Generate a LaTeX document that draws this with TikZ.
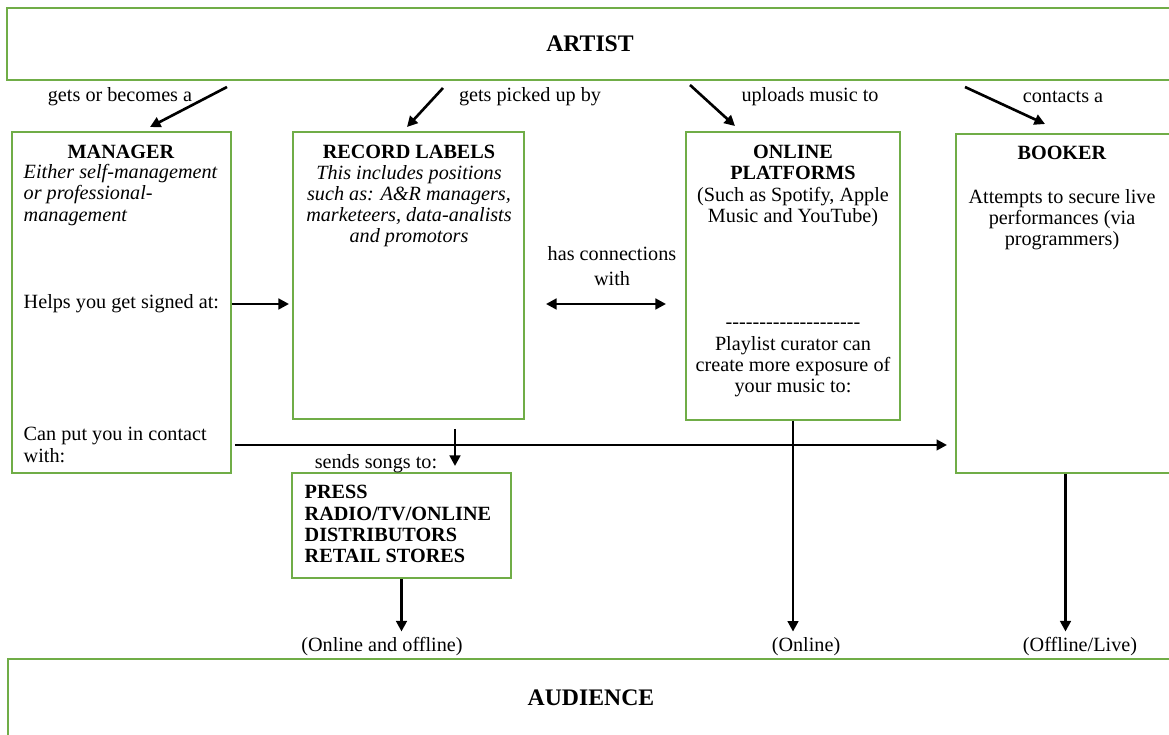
\documentclass[tikz,border=0pt]{standalone}
\usepackage{fontspec}
\setmainfont{Liberation Serif}[Ligatures=TeXOff]
\usepackage{xcolor}
\usepackage{tikz}
\usetikzlibrary{arrows.meta,positioning,calc}

\definecolor{boxgreen}{RGB}{112,173,71}
\newcommand{\bodysize}{\fontsize{11.5}{12}\selectfont}

\tikzset{
    box/.style={draw=boxgreen, line width=1.1pt, inner sep=0pt},
    arr/.style={-{Triangle[length=6pt,width=6pt]}, line width=1.5pt},
    twoway/.style={{Triangle[length=6pt,width=6pt]}-{Triangle[length=6pt,width=6pt]}, line width=1.5pt},
    title/.style={font=\fontsize{13.5}{15}\selectfont\bfseries},
    head/.style={font=\bodysize\bfseries},
    note/.style={font=\bodysize\itshape}
}

\begin{document}
\begin{tikzpicture}[font=\bodysize]
    \useasboundingbox (0,0) rectangle (23.38,14.7);
    \clip (0,0) rectangle (23.38,14.7);

    % Artist
    \node[box, title, minimum width=23.32cm, minimum height=1.44cm] (artist) at (11.8,13.82) {ARTIST};

    % Manager
    \node[box, minimum width=4.38cm, minimum height=6.82cm] (manager) at (2.43,8.65) {};
    \node (mantitle) at (2.42,11.66) {\textbf{MANAGER}};
    \node[note, align=left, anchor=west] (mannote) at (0.35,10.8) {Either self-management\\or professional-\\management};
    \node[anchor=west] (helps) at (0.35,8.62) {Helps you get signed at:};
    \node[align=left, anchor=west] (contact) at (0.35,5.8) {Can put you in contact\\with:};

    % Record labels
    \node[box, minimum width=4.62cm, minimum height=5.74cm] (records) at (8.17,9.19) {};
    \node (rectitle) at (8.18,11.66) {\textbf{RECORD LABELS}};
    \node[note, align=center] (recnote) at (8.18,10.58) {This includes positions\\such as: A\&R managers,\\marketeers, data-analists\\and promotors};

    % Online platforms
    \node[box, minimum width=4.28cm, minimum height=5.76cm] (online) at (15.86,9.18) {};
    \node[align=center] (ontitle) at (15.86,10.98) {\textbf{ONLINE}\\\textbf{PLATFORMS}\\(Such as Spotify, Apple\\Music and YouTube)};
    \node[align=center] (curator) at (15.86,7.5) {--------------------\\Playlist curator can\\create more exposure of\\your music to:};

    % Booker
    \node[box, minimum width=4.38cm, minimum height=6.78cm] (booker) at (21.31,8.63) {};
    \node (booktitle) at (21.24,11.64) {\textbf{BOOKER}};
    \node[align=center] (booknote) at (21.24,10.31) {Attempts to secure live\\performances (via\\programmers)};

    % Press / radio / distributors
    \node[box, minimum width=4.38cm, minimum height=2.1cm] (press) at (8.03,4.19) {};
    \node[head, align=left, anchor=west] (outlets) at (5.97,4.22) {PRESS\\RADIO/TV/ONLINE\\DISTRIBUTORS\\RETAIL STORES};

    % Audience
    \node[box, title, minimum width=23.32cm, minimum height=1.56cm] (audience) at (11.82,0.74) {AUDIENCE};

    % Labels
    \node (becomes) at (2.4,12.76) {gets or becomes a};
    \node (pickedup) at (10.6,12.76) {gets picked up by};
    \node (uploads) at (16.2,12.76) {uploads music to};
    \node (contacts) at (21.26,12.76) {contacts a};
    \node[align=center] (links) at (12.24,9.38) {has connections\\[2.5pt]with};
    \node (sends) at (7.52,5.42) {sends songs to:};
    \node (onoff) at (7.64,1.76) {(Online and offline)};
    \node (onl) at (16.12,1.76) {(Online)};
    \node (offl) at (21.6,1.76) {(Offline/Live)};

    % Arrows from artist
    \coordinate (s1) at (4.54,12.96);
    \coordinate (s2) at (8.86,12.94);
    \coordinate (s3) at (13.8,13.0);
    \coordinate (s4) at (19.3,12.96);
    \draw[arr] (s1) -- ([shift={(0.57,0.08)}]manager.north);
    \draw[arr] (s2) -- ([shift={(-0.03,0.08)}]records.north);
    \draw[arr] (s3) -- ([shift={(-1.16,0.1)}]online.north);
    \draw[arr] (s4) -- ([shift={(-0.41,0.18)}]booker.north);

    % Sideways
    \draw[arr, shorten >=0.06cm] (manager.east |- helps) -- (records.west |- helps);
    \draw[twoway, shorten <=0.42cm, shorten >=0.38cm] (records.east |- helps) -- (online.west |- helps);
    \draw[arr, shorten <=0.06cm, shorten >=0.16cm] (manager.east |- contact) -- (booker.west |- contact);

    % Down to audience
    \draw[arr, shorten <=0.18cm, shorten >=0.12cm] ([xshift=0.93cm]records.south) -- ([xshift=0.93cm]records.south |- press.north);
    \draw[arr] (press.south) -- (press.south |- onoff.north);
    \draw[arr] (online.south) -- (online.south |- onl.north);
    \draw[arr] (booker.south) -- (booker.south |- offl.north);
\end{tikzpicture}
\end{document}
